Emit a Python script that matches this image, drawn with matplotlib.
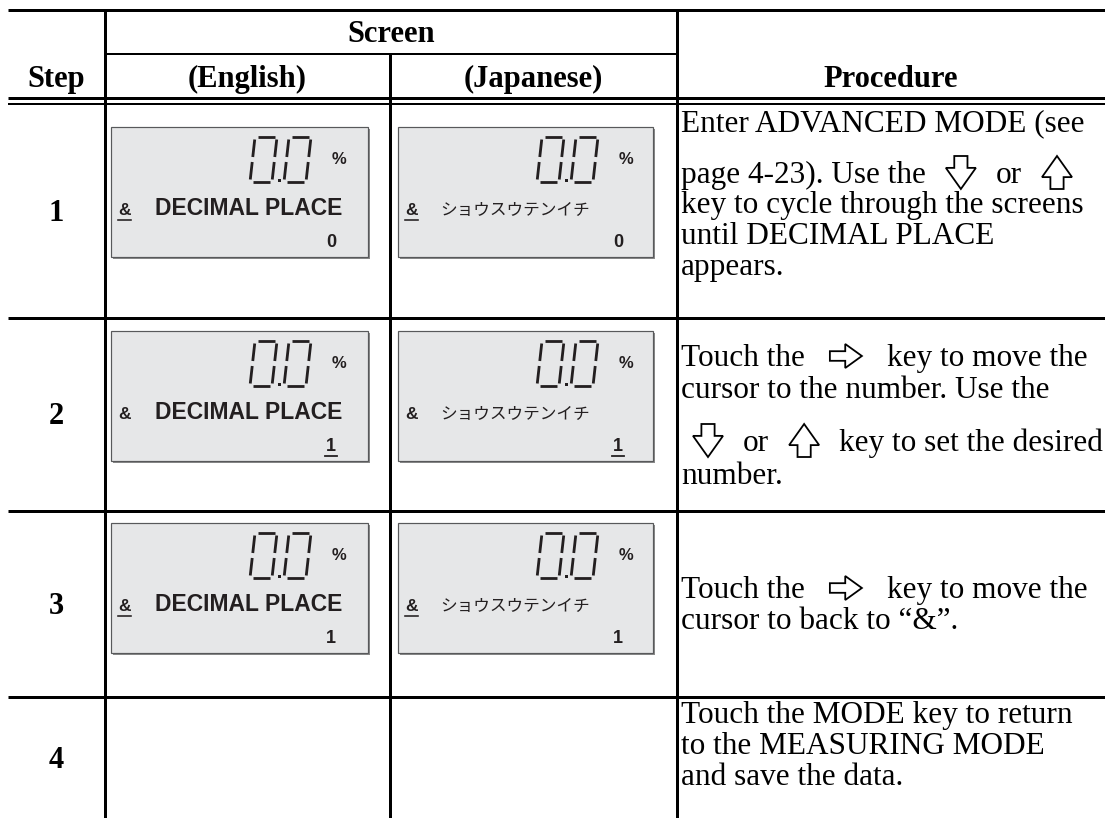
import re
import matplotlib
matplotlib.use("Agg")
import matplotlib.pyplot as plt
from matplotlib.patches import Rectangle, Polygon

# table content
steps = ["1", "2", "3", "4"]
headers = ["Step", "(English)", "(Japanese)", "Procedure"]
group_header = "Screen"
lcd_en = "DECIMAL PLACE"
lcd_jp = "ショウスウテンイチ"
lcd_values = ["0", "1", "1"]
amp_underline = [True, False, True]
value_underline = [False, True, False]

procedure = [
    ["Enter ADVANCED MODE (see",
     "page 4-23). Use the <down> or <up>",
     "key to cycle through the screens",
     "until DECIMAL PLACE",
     "appears."],
    ["Touch the <right> key to move the",
     "cursor to the number. Use the",
     "<down> or <up> key to set the desired",
     "number."],
    ["Touch the <right> key to move the",
     "cursor to back to \u201c&\u201d."],
    ["Touch the MODE key to return",
     "to the MEASURING MODE",
     "and save the data."],
]

W, H = 1105, 818
PX = 0.72  # points per pixel at 100 dpi
ink = "#231f20"
serif = "Liberation Serif"
sans = "Liberation Sans"
jp = ["Noto Sans CJK JP", "DejaVu Sans"]

fig = plt.figure(figsize=(W / 100, H / 100), dpi=100)
ax = fig.add_axes([0, 0, 1, 1])
ax.set_xlim(0, W)
ax.set_ylim(H, 0)
ax.axis("off")
renderer = fig.canvas.get_renderer()


def hline(y, x0, x1, px=3):
    ax.plot([x0, x1], [y, y], color="black", lw=px * PX, solid_capstyle="butt")


def vline(x, y0, y1, px=3):
    ax.plot([x, x], [y0, y1], color="black", lw=px * PX, solid_capstyle="butt")


# grid
row_top = [104, 318, 511, 697]
row_bot = [318, 511, 697, H]
col_x = [8, 105, 390, 677, W]

hline(10, 8, W)
hline(54, 105, 677, 2)
hline(98, 8, W, 3)
hline(104, 8, W, 2)
for y in row_top[1:]:
    hline(y, 8, W)
vline(105, 10, H)
vline(390, 54, H)
vline(677, 10, H)

# headers
hfont = dict(family=serif, weight="bold", fontsize=22, color="black")
ax.text((105 + 677) / 2, 42, group_header, ha="center", va="baseline", **hfont)
for i, h in enumerate(headers):
    ax.text((col_x[i] + col_x[i + 1]) / 2, 87, h, ha="center", va="baseline", **hfont)

for i, s in enumerate(steps):
    yc = (row_top[i] + row_bot[i]) / 2
    ax.text(56, yc + 10, s, ha="center", va="baseline", **hfont)


# LCD screens
def seven_seg_zero(x0, y0, w=22, h=45, slant=5, g=2.5):
    def p(u, v):
        return x0 + u + slant * (h - v) / h, y0 + v
    segs = [((g, 0), (w - g, 0)), ((w, g), (w, h / 2 - g)), ((w, h / 2 + g), (w, h - g)),
            ((g, h), (w - g, h)), ((0, h / 2 + g), (0, h - g)), ((0, g), (0, h / 2 - g))]
    for a, b in segs:
        pa, pb = p(*a), p(*b)
        ax.plot([pa[0], pb[0]], [pa[1], pb[1]], color=ink, lw=2.8 * PX, solid_capstyle="butt")


def lcd(bx, by, bw, label, is_jp, value, amp_ul, val_ul):
    bh = 130
    ax.add_patch(Rectangle((bx + 1.5, by + 1.5), bw, bh, facecolor="#8a8a8a", edgecolor="none"))
    ax.add_patch(Rectangle((bx, by), bw, bh, facecolor="#e6e7e8", edgecolor="#58595b", lw=1.2 * PX))
    seven_seg_zero(bx + 139, by + 10)
    ax.add_patch(Rectangle((bx + 167, by + 52), 3, 3, facecolor=ink, edgecolor="none"))
    seven_seg_zero(bx + 173, by + 10)
    ax.text(bx + 228, by + 32, "%", ha="center", va="center", family=sans, weight="bold",
            fontsize=12, color=ink)
    amp = ax.text(bx + 7, by + 88, "&", ha="left", va="baseline", family=sans, weight="bold",
                  fontsize=12.5, color=ink)
    if amp_ul:
        bb = amp.get_window_extent(renderer)
        ax.plot([bx + 7, bx + 7 + bb.width], [by + 93, by + 93], color=ink, lw=1.6 * PX)
    if is_jp:
        ax.text(bx + 42, by + 88, label, ha="left", va="baseline", family=jp, fontsize=12,
                color=ink)
    else:
        ax.text(bx + 44, by + 88, label, ha="left", va="baseline", family=sans, weight="bold",
                fontsize=16.5, color=ink)
    v = ax.text(bx + 220, by + 120, value, ha="center", va="baseline", family=sans,
                weight="bold", fontsize=13, color=ink)
    if val_ul:
        bb = v.get_window_extent(renderer)
        ax.plot([bx + 220 - bb.width / 2 - 1, bx + 220 + bb.width / 2 + 1],
                [by + 125, by + 125], color=ink, lw=1.8 * PX)


box_top = [127, 331, 523]
for i in range(3):
    lcd(111, box_top[i], 257, lcd_en, False, lcd_values[i], amp_underline[i], value_underline[i])
    lcd(398, box_top[i], 255, lcd_jp, True, lcd_values[i], amp_underline[i], value_underline[i])


# hollow key icons
def icon(kind, x, base):
    if kind == "right":
        w, h = 32, 24
        top = base - h + 2
        pts = [(0, 0.3), (0.48, 0.3), (0.48, 0), (1, 0.5), (0.48, 1), (0.48, 0.7), (0, 0.7)]
    else:
        w, h = 30, 33
        top = base - 27
        if kind == "down":
            pts = [(0.28, 0), (0.72, 0), (0.72, 0.36), (1, 0.36), (0.5, 1), (0, 0.36), (0.28, 0.36)]
        else:
            pts = [(0.28, 1), (0.72, 1), (0.72, 0.64), (1, 0.64), (0.5, 0), (0, 0.64), (0.28, 0.64)]
    ax.add_patch(Polygon([(x + u * w, top + v * h) for u, v in pts], closed=True,
                         facecolor="white", edgecolor="black", lw=1.8 * PX, joinstyle="miter"))
    return w


icon_gap = {"down": 20, "up": 20, "right": 25}


def text_line(x, base, line):
    parts = [p for p in re.split(r"(<\w+>)", line) if p]
    for j, part in enumerate(parts):
        if part.startswith("<"):
            kind = part[1:-1]
            x += icon_gap[kind] if j > 0 else 12
            x += icon(kind, x, base)
            x += icon_gap[kind]
        else:
            t = ax.text(x, base, part.strip(), ha="left", va="baseline", family=serif,
                        fontsize=22.5, color="black")
            x += t.get_window_extent(renderer).width


baselines = [[131, 183, 213, 244, 275], [366, 398, 451, 484], [598, 629], [723, 754, 785]]
for lines, bases in zip(procedure, baselines):
    for line, b in zip(lines, bases):
        text_line(681, b, line)

fig.savefig("out.png", dpi=100)
